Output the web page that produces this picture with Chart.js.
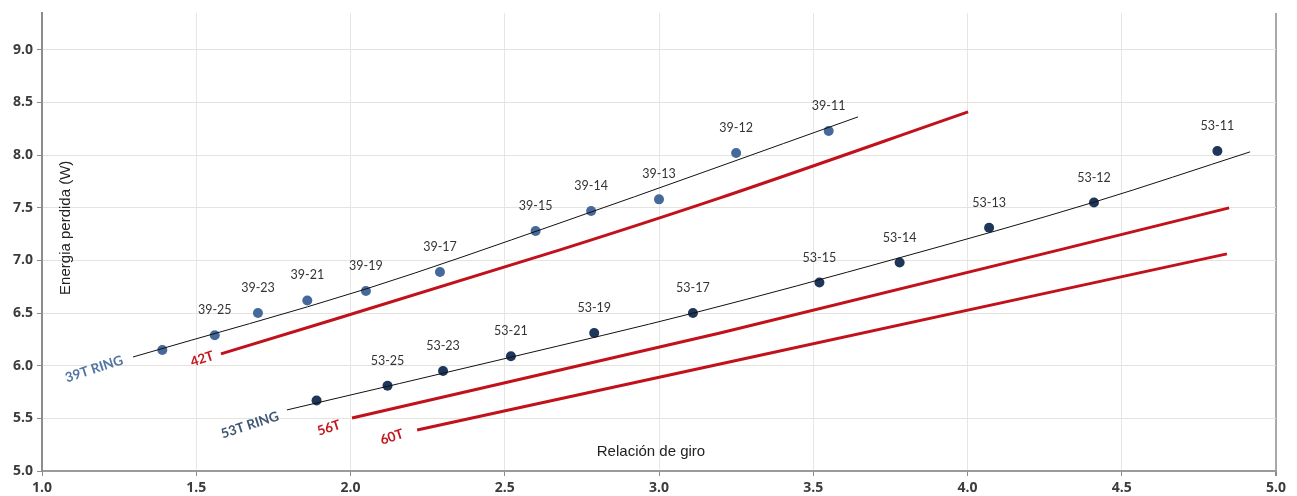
<!DOCTYPE html>
<html>
<head>
<meta charset="utf-8">
<script src="https://cdn.jsdelivr.net/npm/chart.js@4.4.1/dist/chart.umd.min.js"></script>
<style>
  html, body { margin: 0; padding: 0; background: #ffffff; }
  #wrap { position: relative; width: 1297px; height: 496px; }
</style>
</head>
<body>
<div id="wrap"><canvas id="chart" width="1297" height="496"></canvas></div>
<script>
// Gear ratio (x) and lost energy in watts (y) for each chainring / cog combination
const ratio39  = [1.39, 1.56, 1.70, 1.86, 2.05, 2.29, 2.60, 2.78, 3.00, 3.25, 3.55];
const energy39 = [6.15, 6.29, 6.50, 6.62, 6.71, 6.89, 7.28, 7.47, 7.58, 8.02, 8.23];
const labels39 = ['', '39-25', '39-23', '39-21', '39-19', '39-17', '39-15', '39-14', '39-13', '39-12', '39-11'];

const ratio53  = [1.89, 2.12, 2.30, 2.52, 2.79, 3.11, 3.52, 3.78, 4.07, 4.41, 4.81];
const energy53 = [5.67, 5.81, 5.95, 6.09, 6.31, 6.50, 6.79, 6.98, 7.31, 7.55, 8.04];
const labels53 = ['', '53-25', '53-23', '53-21', '53-19', '53-17', '53-15', '53-14', '53-13', '53-12', '53-11'];

// Trend curves through each chainring's points
const trend39X = [1.295, 2.05, 2.679, 3.645];
const trend39Y = [6.083, 6.729, 7.356, 8.363];
const trend53X = [1.794, 2.523, 3.113, 3.778, 4.413, 4.916];
const trend53Y = [5.580, 6.083, 6.501, 7.024, 7.556, 8.031];

// Estimated curves for larger chainrings
const ring42X = [1.580, 2.679, 3.198, 4.002];
const ring42Y = [6.112, 7.100, 7.594, 8.411];
const ring56X = [2.005, 3.198, 4.848];
const ring56Y = [5.504, 6.311, 7.499];
const ring60X = [2.216, 3.198, 4.841];
const ring60Y = [5.390, 6.017, 7.062];

// Axis ticks
const xTicks = [1.0, 1.5, 2.0, 2.5, 3.0, 3.5, 4.0, 4.5, 5.0];
const yTicks = [5.0, 5.5, 6.0, 6.5, 7.0, 7.5, 8.0, 8.5, 9.0];

// Curve names and where they sit on the chart (data units)
const curveNames = ['39T RING', '42T', '53T RING', '56T', '60T'];
const curveNameX = [1.169, 1.519, 1.674, 1.930, 2.134];
const curveNameY = [5.969, 6.064, 5.437, 5.409, 5.323];
const curveNameColors = ['#5274a3', '#c4161e', '#3f5674', '#c4161e', '#c4161e'];

const xTitle = 'Relación de giro';
const yTitle = 'Energia perdida (W)';

const toXY = (xs, ys) => xs.map((x, i) => ({ x: x, y: ys[i] }));

const RED = '#c1121c';
const BLUE = '#46699b';
const NAVY = '#1e3659';

function lineSet(xs, ys, color, width) {
  return {
    data: toXY(xs, ys),
    showLine: true,
    borderColor: color,
    borderWidth: width,
    pointRadius: 0,
    pointHoverRadius: 0,
    cubicInterpolationMode: 'monotone',
    fill: false
  };
}

function pointSet(xs, ys, labels, color) {
  return {
    data: toXY(xs, ys),
    showLine: false,
    pointRadius: 5,
    pointHoverRadius: 5,
    pointBackgroundColor: color,
    pointBorderColor: color,
    pointBorderWidth: 0,
    pointLabels: labels
  };
}

// Draws the gear combination above each dot
const pointLabelPlugin = {
  id: 'pointLabels',
  afterDatasetsDraw(chart) {
    const ctx = chart.ctx;
    ctx.save();
    ctx.font = '12.5px Lato, "Open Sans", sans-serif';
    ctx.fillStyle = '#333333';
    ctx.textAlign = 'center';
    ctx.textBaseline = 'middle';
    chart.data.datasets.forEach((ds, di) => {
      if (!ds.pointLabels) return;
      const meta = chart.getDatasetMeta(di);
      meta.data.forEach((pt, i) => {
        const txt = ds.pointLabels[i];
        if (txt) ctx.fillText(txt, pt.x, pt.y - 25);
      });
    });
    ctx.restore();
  }
};

// Curve names and axis titles drawn inside the plot area
const annotationPlugin = {
  id: 'annotations',
  afterDatasetsDraw(chart) {
    const ctx = chart.ctx;
    const xs = chart.scales.x, ys = chart.scales.y;
    ctx.save();
    ctx.textAlign = 'center';
    ctx.textBaseline = 'middle';
    ctx.font = 'bold 13.5px Lato, "Open Sans", sans-serif';
    curveNames.forEach((name, i) => {
      ctx.save();
      ctx.translate(xs.getPixelForValue(curveNameX[i]), ys.getPixelForValue(curveNameY[i]));
      ctx.rotate(-18 * Math.PI / 180);
      ctx.fillStyle = curveNameColors[i];
      ctx.fillText(name, 0, 0);
      ctx.restore();
    });

    ctx.font = '15px "Liberation Sans", Arial, sans-serif';
    ctx.fillStyle = '#222222';
    ctx.fillText(xTitle, xs.getPixelForValue(2.974), ys.getPixelForValue(5.18));

    ctx.save();
    ctx.translate(chart.chartArea.left + 24, ys.getPixelForValue(7.31));
    ctx.rotate(-Math.PI / 2);
    ctx.fillText(yTitle, 0, 0);
    ctx.restore();
    ctx.restore();
  }
};

const tickFont = { family: '"Open Sans", Lato, sans-serif', size: 14, weight: 'bold' };

new Chart(document.getElementById('chart'), {
  type: 'scatter',
  data: {
    datasets: [
      lineSet(ring42X, ring42Y, RED, 3),
      lineSet(ring56X, ring56Y, RED, 3),
      lineSet(ring60X, ring60Y, RED, 3),
      lineSet(trend39X, trend39Y, '#111111', 1),
      lineSet(trend53X, trend53Y, '#111111', 1),
      pointSet(ratio39, energy39, labels39, BLUE),
      pointSet(ratio53, energy53, labels53, NAVY)
    ]
  },
  options: {
    responsive: false,
    animation: false,
    layout: { padding: { top: 13, right: 21, bottom: 0, left: 0 } },
    plugins: {
      legend: { display: false },
      tooltip: { enabled: false }
    },
    scales: {
      x: {
        type: 'linear',
        min: xTicks[0],
        max: xTicks[xTicks.length - 1],
        afterBuildTicks: s => { s.ticks = xTicks.map(v => ({ value: v })); },
        afterFit: s => { s.height = 25; },
        grid: {
          color: ctx => (ctx.tick && ctx.tick.value === 5 ? '#a8a8a8' : '#e6e6e6'),
          lineWidth: ctx => (ctx.tick && ctx.tick.value === 5 ? 2 : 1),
          tickColor: '#8c8c8c',
          tickLength: 5,
          drawTicks: true
        },
        border: { display: true, color: '#9a9a9a', width: 2 },
        ticks: {
          padding: 4,
          color: '#3c3c3c',
          font: tickFont,
          callback: v => Number(v).toFixed(1)
        }
      },
      y: {
        type: 'linear',
        min: yTicks[0],
        max: 9.35,
        afterBuildTicks: s => { s.ticks = yTicks.map(v => ({ value: v })); },
        afterFit: s => { s.width = 42; },
        grid: {
          color: '#e4e3dc',
          lineWidth: 1,
          tickColor: '#8c8c8c',
          tickLength: 5,
          drawTicks: true
        },
        border: { display: true, color: '#8c8c8c', width: 2 },
        ticks: {
          padding: 4,
          color: '#3c3c3c',
          font: tickFont,
          callback: v => Number(v).toFixed(1)
        }
      }
    }
  },
  plugins: [pointLabelPlugin, annotationPlugin]
});
</script>
</body>
</html>
